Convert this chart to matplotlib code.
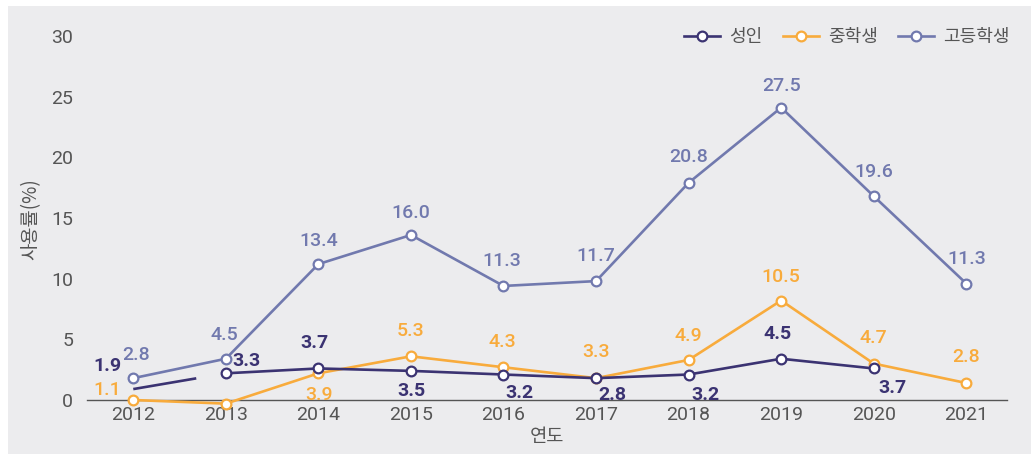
import numpy as np
import matplotlib
matplotlib.use("Agg")
import matplotlib.pyplot as plt
from matplotlib.patches import Rectangle

plt.rcParams['font.family'] = ['Noto Sans CJK KR', 'DejaVu Sans']
plt.rcParams['lines.scale_dashes'] = False

years = [2012, 2013, 2014, 2015, 2016, 2017, 2018, 2019, 2020, 2021]

# values as drawn on the chart (positions), and the printed labels
adult = [0.9, 2.2, 2.6, 2.4, 2.1, 1.8, 2.1, 3.4, 2.6, None]
middle = [0.0, -0.3, 2.2, 3.6, 2.7, 1.8, 3.3, 8.2, 3.0, 1.4]
high = [1.8, 3.4, 11.2, 13.6, 9.4, 9.8, 17.9, 24.1, 16.8, 9.6]

adult_lbl = ["1.9", "3.3", "3.7", "3.5", "3.2", "2.8", "3.2", "4.5", "3.7", None]
middle_lbl = ["1.1", "1.1", "3.9", "5.3", "4.3", "3.3", "4.9", "10.5", "4.7", "2.8"]
high_lbl = ["2.8", "4.5", "13.4", "16.0", "11.3", "11.7", "20.8", "27.5", "19.6", "11.3"]

c_adult = "#3b3372"
c_middle = "#f8ab3c"
c_high = "#7179ae"

# label offsets in pixels (dx, dy) relative to each point
adult_off = [(-26, 23), (21, 12), (-4, 25), (0, -20), (16, -18), (16, -17), (17, -20), (-4, 25), (19, -20), None]
middle_off = [(-26, 10), (-18, 22), (1, -22), (0, 25), (-1, 25), (0, 26), (0, 24), (0, 24), (0, 26), (0, 26)]
high_off = [(3, 23), (-1, 24), (0, 23), (0, 22), (-2, 25), (0, 25), (0, 26), (0, 22), (0, 24), (0, 25)]

fig = plt.figure(figsize=(10.31, 4.54), dpi=100)
fig.patch.set_facecolor("white")
fig.patches.append(Rectangle((8 / 1031, 0), 1, (454 - 6) / 454, transform=fig.transFigure,
                             facecolor="#ececee", edgecolor="none", zorder=-10))
ax = fig.add_axes([87 / 1031, 54 / 454, 920 / 1031, 364 / 454])
ax.set_facecolor("none")

mk = dict(marker="o", markersize=7, markerfacecolor="white", markeredgewidth=1.6,
          linewidth=1.9, clip_on=False)

ax.plot(years, high, color=c_high, label="고등학생", zorder=3, **mk)
ax.plot(years, middle, color=c_middle, label="중학생", zorder=4, **mk)

ya = [np.nan if v is None else v for v in adult]
ax.plot(years[1:], ya[1:], color=c_adult, label="성인", zorder=5, **mk)
# short stub of the adult line starting at 2012 (no marker)
ax.plot(years[:2], ya[:2], color=c_adult, linewidth=1.9, linestyle=(0, (46, 60)),
        zorder=5, clip_on=False, solid_capstyle="butt", dash_capstyle="butt")

def put_labels(vals, lbls, offs, color, weight):
    for x, v, t, o in zip(years, vals, lbls, offs):
        if t is None:
            continue
        ax.annotate(t, (x, v), xytext=(o[0] * 0.72, o[1] * 0.72), textcoords="offset points",
                    ha="center", va="center", fontsize=14, color=color,
                    fontweight=weight, family=["Roboto", "DejaVu Sans"], zorder=6)

put_labels(high, high_lbl, high_off, c_high, "medium")
put_labels(middle, middle_lbl, middle_off, c_middle, "medium")
put_labels(adult, adult_lbl, adult_off, c_adult, "bold")

ax.set_xlim(2011.5, 2021.44)
ax.set_ylim(0, 30)
ax.set_yticks([0, 5, 10, 15, 20, 25, 30])
ax.set_xticks(years)
ax.tick_params(length=0, labelsize=14, labelcolor="#555555")
ax.tick_params(axis="y", pad=10)
ax.tick_params(axis="x", pad=4)
for lab in ax.get_xticklabels() + ax.get_yticklabels():
    lab.set_family(["Roboto", "DejaVu Sans"])
for s in ["top", "right", "left"]:
    ax.spines[s].set_visible(False)
ax.spines["bottom"].set_color("#555555")
ax.spines["bottom"].set_linewidth(1.0)

ax.set_xlabel("연도", fontsize=13.5, color="#555555", labelpad=2)
fig.text(31 / 1031, (454 - 219) / 454, "사용률(%)", rotation=90, fontsize=13.5,
         color="#555555", ha="center", va="center")

h, l = ax.get_legend_handles_labels()
order = [2, 1, 0]
ax.legend([h[i] for i in order], [l[i] for i in order], loc="upper right",
          bbox_to_anchor=(1.02, 1.066), ncol=3, frameon=False, fontsize=13,
          handlelength=2.0, handletextpad=0.5, columnspacing=1.1, labelcolor="#555555")

fig.savefig("out.png", dpi=100, facecolor=fig.get_facecolor())
